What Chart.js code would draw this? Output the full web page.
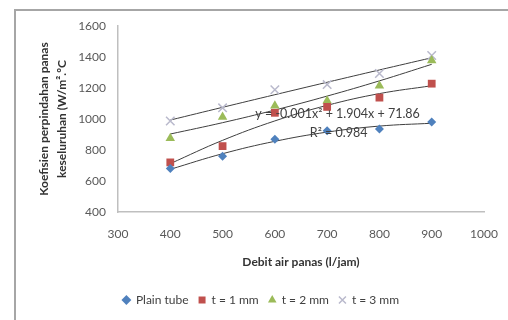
<!DOCTYPE html>
<html>
<head>
<meta charset="utf-8">
<script src="https://cdn.jsdelivr.net/npm/chart.js@4/dist/chart.umd.min.js"></script>
<style>
    html, body { margin: 0; padding: 0; background: #fff; }
    #wrap { position: relative; width: 508px; height: 320px; overflow: hidden; }
    #frame {
        position: absolute; left: 14px; top: 9px; width: 600px; height: 400px;
        border-left: 2px solid #a6a6a6; border-top: 2px solid #a6a6a6;
    }
    #chart { position: absolute; left: 0; top: 0; }
</style>
</head>
<body>
<div id="wrap">
    <div id="frame"></div>
    <canvas id="chart" width="508" height="320"></canvas>
</div>
<script>
// Values
const flowRates = [400, 500, 600, 700, 800, 900];
const plainTube = [680, 760, 870, 925, 935, 980];
const t1mm = [720, 825, 1040, 1078, 1138, 1228];
const t2mm = [876, 1013, 1085, 1117, 1215, 1378];
const t3mm = [987, 1072, 1189, 1222, 1294, 1410];

const xTicks = [300, 400, 500, 600, 700, 800, 900, 1000];
const yTicks = [400, 600, 800, 1000, 1200, 1400, 1600];

const trendText = ['y = -0.001x\u00b2 + 1.904x + 71.86', 'R\u00b2 = 0.984'];

const FONT = 'Lato, "Open Sans", sans-serif';

function points(ys) {
    return flowRates.map((x, i) => ({ x, y: ys[i] }));
}

// quadratic least-squares fit, evaluated at the measured flow rates
function quadFit(ys) {
    let s = [0, 0, 0, 0, 0], t = [0, 0, 0];
    flowRates.forEach((x, i) => {
        for (let k = 0; k < 5; k++) s[k] += Math.pow(x, k);
        for (let k = 0; k < 3; k++) t[k] += Math.pow(x, k) * ys[i];
    });
    const m = [
        [s[0], s[1], s[2], t[0]],
        [s[1], s[2], s[3], t[1]],
        [s[2], s[3], s[4], t[2]]
    ];
    for (let c = 0; c < 3; c++) {
        for (let r = c + 1; r < 3; r++) {
            const f = m[r][c] / m[c][c];
            for (let k = c; k < 4; k++) m[r][k] -= f * m[c][k];
        }
    }
    const coef = [0, 0, 0];
    for (let r = 2; r >= 0; r--) {
        let v = m[r][3];
        for (let k = r + 1; k < 3; k++) v -= m[r][k] * coef[k];
        coef[r] = v / m[r][r];
    }
    return flowRates.map(x => ({ x, y: coef[0] + coef[1] * x + coef[2] * x * x }));
}

function trend(ys) {
    return {
        type: 'line',
        label: '_trend',
        data: quadFit(ys),
        borderColor: '#3f3f3f',
        borderWidth: 1,
        pointRadius: 0,
        tension: 0.4,
        showLine: true,
        fill: false,
        order: 2
    };
}

// equation label next to the plain tube trendline, plus legend nudge
const trendLabel = {
    id: 'trendLabel',
    afterLayout(chart) {
        const lg = chart.legend;
        if (lg) {
            lg.left = 30; lg.right = 492;
            lg.top += 12; lg.bottom += 12;
        }
    },
    afterDatasetsDraw(chart) {
        const { ctx, scales } = chart;
        ctx.save();
        ctx.font = '12.5px ' + FONT;
        ctx.fillStyle = '#404040';
        ctx.textAlign = 'center';
        ctx.textBaseline = 'middle';
        ctx.fillText(trendText[0], scales.x.getPixelForValue(720), scales.y.getPixelForValue(1030));
        ctx.fillText(trendText[1], scales.x.getPixelForValue(722), scales.y.getPixelForValue(910));
        ctx.restore();
    }
};

new Chart(document.getElementById('chart'), {
    type: 'scatter',
    data: {
        datasets: [
            { label: 'Plain tube', data: points(plainTube), pointStyle: 'rectRot', pointRadius: 4.5,
              backgroundColor: '#4f81bd', borderColor: '#4f81bd', borderWidth: 0, order: 1 },
            { label: 't = 1 mm', data: points(t1mm), pointStyle: 'rect', pointRadius: 5.5,
              backgroundColor: '#c0504d', borderColor: '#c0504d', borderWidth: 0, order: 1 },
            { label: 't = 2 mm', data: points(t2mm), pointStyle: 'triangle', pointRadius: 5.5,
              backgroundColor: '#9bbb59', borderColor: '#9bbb59', borderWidth: 0, order: 1 },
            { label: 't = 3 mm', data: points(t3mm), pointStyle: 'crossRot', pointRadius: 6,
              backgroundColor: '#b9b9cc', borderColor: '#b9b9cc', borderWidth: 1.5, order: 1 },
            trend(plainTube),
            trend(t1mm),
            trend(t2mm),
            trend(t3mm)
        ]
    },
    options: {
        responsive: false,
        animation: false,
        layout: { padding: { left: 30, right: 24, top: 26, bottom: 16 } },
        plugins: {
            legend: {
                position: 'bottom',
                labels: {
                    usePointStyle: true,
                    boxWidth: 7,
                    boxHeight: 7,
                    padding: 10,
                    color: '#404040',
                    font: { family: FONT, size: 12 },
                    filter: item => item.text !== '_trend'
                }
            },
            tooltip: { enabled: false }
        },
        scales: {
            x: {
                type: 'linear',
                min: 300,
                max: 1000,
                afterBuildTicks: s => { s.ticks = xTicks.map(v => ({ value: v })); },
                afterFit: s => { s.height = 60; },
                grid: { display: false },
                border: { display: true, color: '#bfbfbf', width: 1.5 },
                ticks: { color: '#595959', padding: 7, font: { family: FONT, size: 12 }, callback: v => String(v) },
                title: {
                    display: true,
                    text: 'Debit air panas (l/jam)',
                    color: '#333',
                    font: { family: FONT, size: 12, weight: 'bold' },
                    padding: { top: 4, bottom: 3 }
                }
            },
            y: {
                min: 400,
                max: 1600,
                afterBuildTicks: s => { s.ticks = yTicks.map(v => ({ value: v })); },
                afterFit: s => { s.width = 88; },
                grid: { display: false },
                border: { display: true, color: '#bfbfbf', width: 1.5 },
                ticks: { color: '#595959', padding: 4, font: { family: FONT, size: 12 }, callback: v => String(v) },
                title: {
                    display: true,
                    text: ['Koefisien perpindahan panas', 'keseluruhan (W/m\u00b2.\u00baC'],
                    color: '#333',
                    font: { family: FONT, size: 12, weight: 'bold', lineHeight: 1.5 },
                    padding: { top: 5, bottom: 0 }
                }
            }
        }
    },
    plugins: [trendLabel]
});
</script>
</body>
</html>
